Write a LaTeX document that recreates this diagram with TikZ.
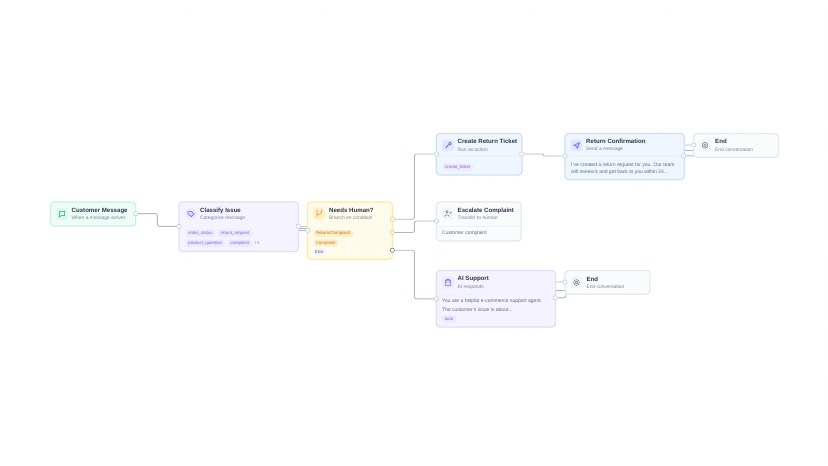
\documentclass[tikz,border=0pt]{standalone}
\usepackage{fontspec}
\setmainfont{Liberation Sans}
\usetikzlibrary{backgrounds,shapes.geometric}
\definecolor{edgec}{HTML}{ADB8CB}
\definecolor{ttl}{HTML}{2B3648}
\definecolor{subc}{HTML}{77859A}
\definecolor{bodyc}{HTML}{5B6A80}
\definecolor{vio}{HTML}{7C5CF0}
\definecolor{greenfill}{HTML}{EEFCF6}\definecolor{greenline}{HTML}{C6F2E1}\definecolor{greenicon}{HTML}{D8F8EA}\definecolor{greendark}{HTML}{3F8F78}
\definecolor{viofill}{HTML}{F5F3FF}\definecolor{violine}{HTML}{E2DCFE}\definecolor{vioicon}{HTML}{EDE9FE}
\definecolor{ambfill}{HTML}{FFFBEB}\definecolor{ambline}{HTML}{FDEAA6}\definecolor{ambicon}{HTML}{FEF0C7}\definecolor{ambdark}{HTML}{E0952A}\definecolor{ambtag}{HTML}{FDEFC8}\definecolor{ambtxt}{HTML}{C0701A}
\definecolor{blufill}{HTML}{EFF6FF}\definecolor{bluline}{HTML}{CCE0FD}\definecolor{bluicon}{HTML}{E3E7FE}
\definecolor{grafill}{HTML}{F9FBFC}\definecolor{graline}{HTML}{E4EAF1}\definecolor{graicon}{HTML}{F1F5F9}\definecolor{gradark}{HTML}{6B7A90}
\definecolor{dotc}{HTML}{F3F5F7}
\definecolor{hgray}{HTML}{C3CCDA}
\tikzset{
 x=1pt,y=-1pt,
 card/.style={draw=#1line,fill=#1fill,line width=1.25pt,rounded corners=3.5pt,anchor=north west,inner sep=0pt,outer sep=0pt},
 iconbox/.style={fill=#1,rounded corners=2.6pt,minimum width=11.5pt,minimum height=11.5pt,inner sep=0pt},
 ttlnode/.style={anchor=west,inner sep=0pt,font=\fontsize{6.1}{7}\selectfont\bfseries,text=ttl},
 subnode/.style={anchor=west,inner sep=0pt,font=\fontsize{4.9}{6}\selectfont,text=subc},
 bodynode/.style={anchor=west,inner sep=0pt,font=\fontsize{5}{6}\selectfont,text=bodyc},
 tagbox/.style={anchor=north west,rounded corners=1.5pt,inner sep=0pt,minimum height=7.2pt,font=\fontsize{4.4}{5}\selectfont},
 vtag/.style={tagbox,fill=vioicon,text=vio},
 atag/.style={tagbox,fill=ambtag,text=ambtxt},
 gtag/.style={tagbox,fill=graicon,text=bodyc},
 handle/.style={circle,draw=#1,fill=white,line width=.6pt,minimum size=4.3pt,inner sep=0pt,outer sep=0pt},
 handle/.default=hgray,
 edge/.style={draw=edgec,line width=.9pt,rounded corners=2pt},
 ico/.style={line width=.55pt,line cap=round,line join=round},
 rule/.style={draw=graline!70!white,line width=.4pt},
}
\newcommand{\cardbox}[6]{\node[card=#6,minimum width=#4pt-#2pt,minimum height=#5pt-#3pt] (#1) at (#2,#3) {};}
\begin{document}
\begin{tikzpicture}
\useasboundingbox (0,0) rectangle (828,466);
% cards
\cardbox{cm}{50.5}{202}{135.7}{226}{green}
\cardbox{cl}{179}{202}{298.5}{251.5}{vio}
\cardbox{nh}{307.5}{202}{392.5}{259.3}{amb}
\cardbox{cr}{436.3}{133.5}{522}{175}{blu}
\cardbox{rc}{565}{133.5}{684.3}{179.7}{blu}
\cardbox{ea}{693.5}{133.5}{778.5}{157.3}{gra}
\cardbox{es}{436.3}{202}{521.3}{241}{gra}
\cardbox{ai}{436.3}{270.5}{555.5}{327}{vio}
\cardbox{eb}{565}{270.5}{650}{294.3}{gra}
% icon squares
\node[iconbox=greenicon] (icm) at (62,214) {};
\node[iconbox=vioicon,rounded corners=5pt] (icl) at (191,213.7) {};
\node[iconbox=ambicon] (inh) at (319.2,213.7) {};
\node[iconbox=bluicon] (icr) at (448,145.3) {};
\node[iconbox=bluicon] (irc) at (576.5,145.3) {};
\node[iconbox=graicon] (iea) at (705,145.3) {};
\node[iconbox=graicon] (ies) at (447.8,213.7) {};
\node[iconbox=vioicon] (iai) at (448,282.5) {};
\node[iconbox=graicon] (ieb) at (576.5,282.5) {};
% icons
\draw[ico,greendark] (59.4,211.4) -- (64.6,211.4) -- (64.6,215.6) -- (60.8,215.6) -- (59.4,217) -- cycle;
\draw[ico,vio,fill=vio!25] (187.8,211.4) -- (191.4,211.4) -- (194.2,214) -- (191.4,216.6) -- (187.8,213.8) -- cycle;
\draw[ico,ambdark] (317,210.8) -- (317,216.8) (321.6,210.8) -- (321.6,212.4) .. controls (321.6,214) and (319,214) .. (317,215.2);
\fill[ambdark] (321.6,211) circle (.7) (317,211) circle (.7);
\draw[ico,vio,line width=.8pt] (445.6,148) -- (448.8,144.6);
\draw[ico,vio,line width=.7pt] (450,143.6) circle (1.4);
\draw[ico,vio,fill=vio!40] (573.6,145.4) -- (579.6,142.6) -- (577.4,148.4) -- (576,146.2) -- cycle;
\draw[ico,gradark,line width=.5pt] (705,145.3) circle (2.9);
\draw[ico,gradark,fill=gradark!25,line width=.4pt] (705,145.3) circle (1.5);
\draw[ico,gradark,line width=.5pt] (576.5,282.5) circle (2.9);
\draw[ico,gradark,fill=gradark!25,line width=.4pt] (576.5,282.5) circle (1.5);
\draw[ico,gradark] (447,211.8) circle (1.3) (444.8,216.6) .. controls (444.8,214.2) and (449.2,214.2) .. (449.2,216.6) (449.8,212.6) -- (450.6,213.4) -- (451.4,212.2);
\draw[ico,vio] (445.4,281) rectangle (450.6,285.4) (445.4,281) .. controls (446,278.6) and (450,278.6) .. (450.6,281);
\fill[vio] (447.2,283) circle (.45) (448.9,283) circle (.45);
% titles
\node[ttlnode] (t1) at (71.5,210.7) {Customer Message};
\node[subnode] (s1) at (71.5,218.2) {When a message arrives};
\node[ttlnode] (t2) at (200,210.7) {Classify Issue};
\node[subnode] (s2) at (200,218.2) {Categorize message};
\node[ttlnode] (t3) at (329,210.7) {Needs Human?};
\node[subnode] (s3) at (329,218.2) {Branch on condition};
\node[ttlnode] (t4) at (457.5,141.8) {Create Return Ticket};
\node[subnode] (s4) at (457.5,149.5) {Run an action};
\node[ttlnode] (t5) at (586,141.8) {Return Confirmation};
\node[subnode] (s5) at (586,149.5) {Send a message};
\node[ttlnode] (t6) at (715,141.8) {End};
\node[subnode] (s6) at (715,149.5) {End conversation};
\node[ttlnode] (t7) at (457.5,210.7) {Escalate Complaint};
\node[subnode] (s7) at (457.5,218.2) {Transfer to human};
\node[ttlnode] (t8) at (457.5,279.3) {AI Support};
\node[subnode] (s8) at (457.5,287) {AI responds};
\node[ttlnode] (t9) at (586.3,279.3) {End};
\node[subnode] (s9) at (586.3,287) {End conversation};
% body
\draw[rule] (436.8,156.5) -- (521.5,156.5);
\draw[rule] (565.5,156.5) -- (683.8,156.5);
\draw[rule] (436.8,225.8) -- (520.8,225.8);
\draw[rule] (436.8,294.3) -- (555,294.3);
\node[bodynode] (b1) at (571,164.8) {I've created a return request for you. Our team};
\node[bodynode] (b2) at (571,172.6) {will review it and get back to you within 24...};
\node[bodynode] (b3) at (442,233) {Customer complaint};
\node[bodynode] (b4) at (442,301.5) {You are a helpful e-commerce support agent.};
\node[bodynode] (b5) at (442,309.5) {The customer's issue is about...};
% tags
\node[vtag,minimum width=29.7pt] (g1) at (185.3,229.4) {order\_status};
\node[vtag,minimum width=34.3pt] (g2) at (217.7,229.4) {return\_request};
\node[vtag,minimum width=39.4pt] (g3) at (185.3,239.4) {product\_question};
\node[vtag,minimum width=24.7pt] (g4) at (227.3,239.4) {complaint};
\node[anchor=west,inner sep=0pt,font=\fontsize{4.4}{5}\selectfont,text=subc] (g5) at (254.5,242.6) {+1};
\node[atag,minimum width=39.4pt] (g6) at (313.3,229.8) {Return/Complaint};
\node[atag,minimum width=24.4pt] (g7) at (313.3,239.2) {Complaint};
\node[gtag,minimum width=11.4pt] (g8) at (313.3,248.2) {Else};
\node[vtag,minimum width=30.4pt] (g9) at (442.3,163.3) {create\_ticket};
\node[vtag,minimum width=14.3pt] (g10) at (441.7,315.2) {auto};
% handles
\node[handle] (cmOut) at (135.8,213.6) {};
\node[handle] (clIn) at (179,226.3) {};
\node[handle] (clOut) at (298.2,226.2) {};
\node[handle] (nhIn) at (307.7,230.3) {};
\node[handle=ambline!60!ambdark] (nhA) at (392.3,219.2) {};
\node[handle=ambline!60!ambdark] (nhB) at (392.3,232.5) {};
\node[handle=gradark] (nhC) at (392.3,250.2) {};
\node[handle] (crIn) at (436.5,154) {};
\node[handle] (crOut) at (521.8,154) {};
\node[handle] (rcIn) at (565,156) {};
\node[handle] (rcOut) at (683.5,155.8) {};
\node[handle] (eaIn) at (693.8,145) {};
\node[handle] (esIn) at (436.5,221) {};
\node[handle] (aiIn) at (436.5,298.8) {};
\node[handle] (aiOut) at (555.2,297.8) {};
\node[handle] (ebIn) at (565,282) {};
\begin{pgfonlayer}{background}
\fill[white] (0,0) rectangle (828,466);
\foreach \i in {0,...,95}{\foreach \j in {0,...,54}{\fill[dotc] ({19.5+8.6*\i},{8.6+8.55*\j}) circle (.45);}}
\draw[edge] (cmOut) -- (157.3,213.6) -- (157.3,226.3) -- (clIn);
\draw[edge,rounded corners=.8pt] (clOut) -- (316,226.4) -- (316,228.4) -- (290,228.4) -- (290,230.3) -- (nhIn);
\draw[edge] (nhA) -- (414.4,219.2) -- (414.4,154) -- (crIn);
\draw[edge] (nhB) -- (414.4,232.5) -- (414.4,221) -- (esIn);
\draw[edge] (nhC) -- (414.4,250.2) -- (414.4,298.8) -- (aiIn);
\draw[edge,rounded corners=.9pt] (crOut) -- (543.4,154) -- (543.4,156) -- (rcIn);
\draw[edge] (rcOut) -- (703,155.8) -- (703,150.4) -- (675,150.4) -- (675,145) -- (eaIn);
\draw[edge] (aiOut) -- (566,297.8) -- (566,290.6) -- (545,290.6) -- (545,282) -- (ebIn);
\end{pgfonlayer}
\end{tikzpicture}
\end{document}
